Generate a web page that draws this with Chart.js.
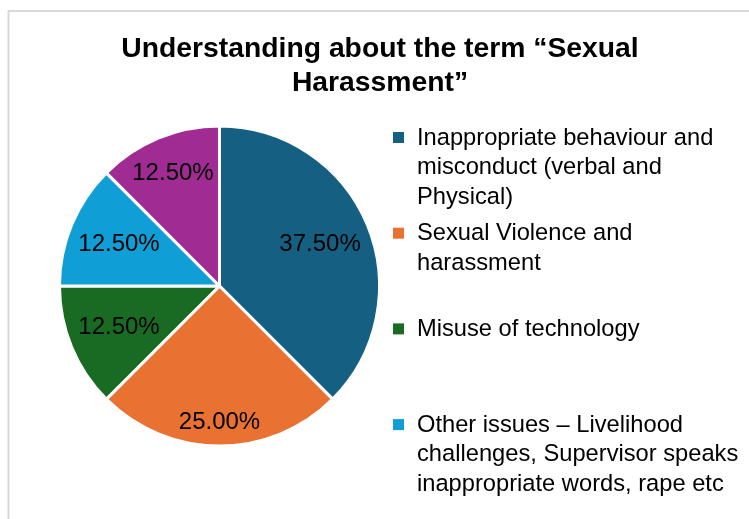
<!DOCTYPE html>
<html>
<head>
<meta charset="utf-8">
<script src="https://cdn.jsdelivr.net/npm/chart.js@4.4.1/dist/chart.umd.min.js"></script>
<style>
  html, body { margin: 0; padding: 0; background: #fff; }
  #wrap { width: 749px; height: 519px; }
</style>
</head>
<body>
<div id="wrap"><canvas id="grafica" width="749" height="519"></canvas></div>
<script>
const titulo = ['Understanding about the term \u201cSexual', 'Harassment\u201d'];
const categorias = [
  ['Inappropriate behaviour and', 'misconduct (verbal and', 'Physical)'],
  ['Sexual Violence and', 'harassment'],
  ['Misuse of technology'],
  ['Other issues \u2013 Livelihood', 'challenges, Supervisor speaks', 'inappropriate words, rape etc'],
  ['Not aware of the term']
];
const porcentajes = [37.5, 25, 12.5, 12.5, 12.5];
const colores = ['#156082', '#E97132', '#196B24', '#0F9ED5', '#A02B93'];
// radial position of each percentage, as a share of the radius
const distEtiqueta = [0.68, 0.855, 0.68, 0.68, 0.76];

const FUENTE = '"Liberation Sans", Arial, sans-serif';

// frame, title, slice labels and the wrapped legend on the right
const decorado = {
  id: 'decorado',
  beforeDraw(chart) {
    const ctx = chart.ctx;
    ctx.save();
    ctx.strokeStyle = '#d9d9d9';
    ctx.lineWidth = 2;
    ctx.strokeRect(8.5, 11, 900, 700);
    ctx.restore();
  },
  afterDraw(chart) {
    const ctx = chart.ctx;
    ctx.save();
    ctx.fillStyle = '#000';

    ctx.font = 'bold 28.3px ' + FUENTE;
    ctx.textAlign = 'center';
    ctx.textBaseline = 'alphabetic';
    titulo.forEach((t, i) => ctx.fillText(t, 380, 57 + i * 34));

    const meta = chart.getDatasetMeta(0);
    ctx.font = '24px ' + FUENTE;
    ctx.textBaseline = 'middle';
    meta.data.forEach((arc, i) => {
      const p = arc.getProps(['x', 'y', 'startAngle', 'endAngle', 'outerRadius'], true);
      const mid = (p.startAngle + p.endAngle) / 2;
      const r = p.outerRadius * distEtiqueta[i];
      const txt = chart.data.datasets[0].data[i].toFixed(2) + '%';
      ctx.fillText(txt, p.x + Math.cos(mid) * r, p.y + Math.sin(mid) * r);
    });

    // legend entries that don't fit in the frame are left out
    ctx.textAlign = 'left';
    ctx.font = '23.7px ' + FUENTE;
    chart.data.labels.forEach((lineas, i) => {
      const y0 = 138 + i * 95.7;
      if (y0 + lineas.length * 29.5 > chart.height + 10) return;
      ctx.fillStyle = chart.data.datasets[0].backgroundColor[i];
      ctx.fillRect(393, y0 - 6, 11, 11);
      ctx.fillStyle = '#000';
      lineas.forEach((l, j) => ctx.fillText(l, 417, y0 + j * 29.5));
    });
    ctx.restore();
  }
};

new Chart(document.getElementById('grafica').getContext('2d'), {
  type: 'pie',
  data: {
    labels: categorias,
    datasets: [{
      data: porcentajes,
      backgroundColor: colores,
      borderColor: '#ffffff',
      borderWidth: 3,
      radius: 160
    }]
  },
  options: {
    responsive: false,
    animation: false,
    layout: { padding: { left: 54.5, right: 364.5, top: 121, bottom: 68 } },
    plugins: {
      legend: { display: false },
      title: { display: false },
      tooltip: { enabled: false }
    }
  },
  plugins: [decorado]
});
</script>
</body>
</html>
